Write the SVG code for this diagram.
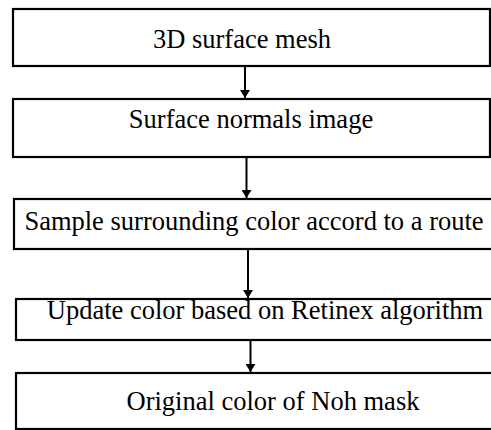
<svg xmlns="http://www.w3.org/2000/svg" width="491" height="430" viewBox="0 0 491 430">
<style>
.box{fill:#fff;stroke:#000;stroke-width:2.2}
.t{font-family:"Liberation Serif","Times New Roman",serif;font-size:26.5px;fill:#000;text-anchor:middle}
.c{stroke:#000;stroke-width:2;fill:none}
</style>
<defs>
<marker id="ah" markerWidth="8" markerHeight="10" refX="8" refY="5" orient="auto" markerUnits="userSpaceOnUse">
<path d="M0,0 L8,5 L0,10 z" fill="#000"/>
</marker>
</defs>
<rect width="491" height="430" fill="#fff"/>
<g id="n1"><rect class="box" x="13" y="9" width="477" height="57"/><text class="t" x="242" y="48">3D surface mesh</text></g>
<g id="n2"><rect class="box" x="13" y="99" width="477" height="58"/><text class="t" x="251" y="128">Surface normals image</text></g>
<g id="n3"><rect class="box" x="14" y="199" width="490" height="50"/><text class="t" x="254" y="230">Sample surrounding color accord to a route</text></g>
<g id="n4"><rect class="box" x="16" y="299" width="490" height="41"/><text class="t" x="265" y="319">Update color based on Retinex algorithm</text></g>
<g id="n5"><rect class="box" x="16" y="373" width="490" height="56"/><text class="t" x="273" y="410">Original color of Noh mask</text></g>
<g id="connectors">
<line class="c" x1="245" y1="66" x2="245" y2="98" marker-end="url(#ah)"/>
<line class="c" x1="246.5" y1="157" x2="246.5" y2="198" marker-end="url(#ah)"/>
<line class="c" x1="248" y1="249" x2="248" y2="298" marker-end="url(#ah)"/>
<line class="c" x1="250.5" y1="340" x2="250.5" y2="372" marker-end="url(#ah)"/>
</g>
</svg>
